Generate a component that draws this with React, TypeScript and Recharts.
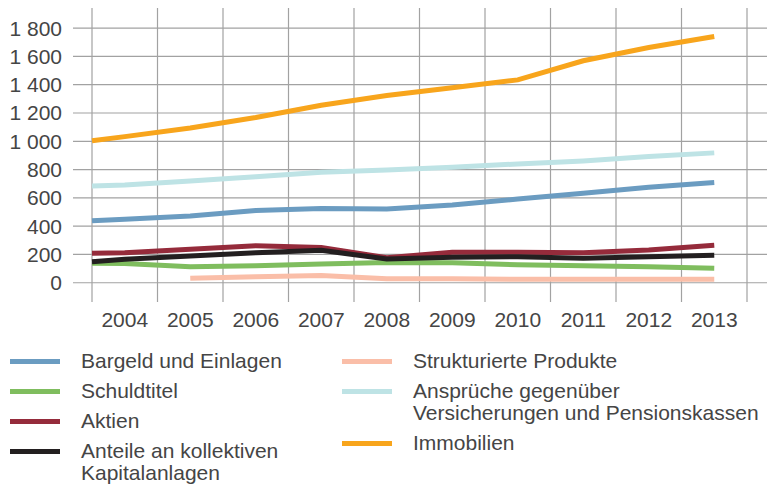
import React from 'react';
import { LineChart, Line, XAxis, YAxis, CartesianGrid } from 'recharts';

// first point sits on the left edge of the plot (half a year before 2004)
const periods = [2003.5, 2004, 2005, 2006, 2007, 2008, 2009, 2010, 2011, 2012, 2013];
const yearTicks = [2004, 2005, 2006, 2007, 2008, 2009, 2010, 2011, 2012, 2013];
const gridBounds = [2003.5, 2004.5, 2005.5, 2006.5, 2007.5, 2008.5, 2009.5, 2010.5, 2011.5, 2012.5, 2013.5];
const valueTicks = [0, 200, 400, 600, 800, 1000, 1200, 1400, 1600, 1800];

const bargeld = [439, 449, 472, 510, 524, 521, 550, 592, 633, 675, 708];
const schuldtitel = [137, 136, 113, 120, 132, 144, 141, 127, 120, 113, 102];
const aktien = [208, 212, 236, 262, 250, 177, 215, 215, 212, 231, 265];
const anteile = [149, 166, 189, 212, 229, 168, 180, 184, 173, 184, 194];
const strukturiert = [null, null, 31, 42, 52, 28, 28, 24, 24, 24, 24];
const ansprueche = [684, 691, 720, 750, 781, 797, 816, 840, 861, 892, 918];
const immobilien = [1003, 1033, 1094, 1168, 1255, 1323, 1378, 1434, 1569, 1663, 1741];

const series = [
  { key: 'bargeld', name: 'Bargeld und Einlagen', color: '#6b9cc1', values: bargeld },
  { key: 'schuldtitel', name: 'Schuldtitel', color: '#7fbd5e', values: schuldtitel },
  { key: 'aktien', name: 'Aktien', color: '#952b3b', values: aktien },
  { key: 'anteile', name: 'Anteile an kollektiven\nKapitalanlagen', color: '#231f20', values: anteile },
  { key: 'strukturiert', name: 'Strukturierte Produkte', color: '#fabea8', values: strukturiert },
  { key: 'ansprueche', name: 'Ansprüche gegenüber\nVersicherungen und Pensionskassen', color: '#bee3e5', values: ansprueche },
  { key: 'immobilien', name: 'Immobilien', color: '#f8a51c', values: immobilien },
];

const data = periods.map((p, i) => {
  const row: Record<string, number | null> = { period: p };
  series.forEach((s) => {
    row[s.key] = s.values[i];
  });
  return row;
});

const FONT = '"Liberation Sans", Arial, sans-serif';
const TEXT = '#454545';

const fmt = (v: number) =>
  v >= 1000 ? `${Math.floor(v / 1000)} ${String(v % 1000).padStart(3, '0')}` : String(v);

function LegendItem({ name, color, left, top }: { name: string; color: string; left: number; top: number }) {
  return (
    <div style={{ position: 'absolute', left, top, display: 'flex', alignItems: 'flex-start' }}>
      <div style={{ width: 50, height: 5, background: color, marginTop: 9 }} />
      <div style={{ marginLeft: 21, whiteSpace: 'pre', lineHeight: '22px', fontSize: 21, color: TEXT }}>{name}</div>
    </div>
  );
}

export default function App() {
  const leftCol = series.slice(0, 4);
  const rightCol = series.slice(4);
  const leftTops = [350, 380, 410, 440];
  const rightTops = [350, 380, 432];

  return (
    <div style={{ position: 'absolute', left: 0, top: 0, width: 767, height: 485, fontFamily: FONT, background: '#fff' }}>
      <LineChart width={767} height={340} data={data} margin={{ top: 8, right: 0, bottom: 8, left: 0 }}>
        <CartesianGrid
          stroke="#a2a2a2"
          strokeWidth={1.2}
          horizontalValues={valueTicks}
          verticalValues={gridBounds}
        />
        <XAxis
          dataKey="period"
          type="number"
          domain={[2003.5, 2013.5]}
          ticks={yearTicks}
          padding={{ left: 19, right: 20 }}
          axisLine={false}
          tickLine={false}
          tickSize={0}
          tickMargin={10}
          height={30}
          interval={0}
          tick={{ fill: TEXT, fontSize: 21, fontFamily: FONT }}
        />
        <YAxis
          type="number"
          domain={[-136, 1942]}
          ticks={valueTicks}
          allowDataOverflow
          width={73}
          axisLine={false}
          tickLine={false}
          tickSize={0}
          tickMargin={11}
          interval={0}
          tickFormatter={fmt}
          tick={{ fill: TEXT, fontSize: 21, fontFamily: FONT }}
        />
        {series.map((s) => (
          <Line
            key={s.key}
            dataKey={s.key}
            stroke={s.color}
            strokeWidth={5}
            dot={false}
            activeDot={false}
            type="linear"
            isAnimationActive={false}
          />
        ))}
      </LineChart>
      {leftCol.map((s, i) => (
        <LegendItem key={s.key} name={s.name} color={s.color} left={10} top={leftTops[i]} />
      ))}
      {rightCol.map((s, i) => (
        <LegendItem key={s.key} name={s.name} color={s.color} left={342} top={rightTops[i]} />
      ))}
    </div>
  );
}
